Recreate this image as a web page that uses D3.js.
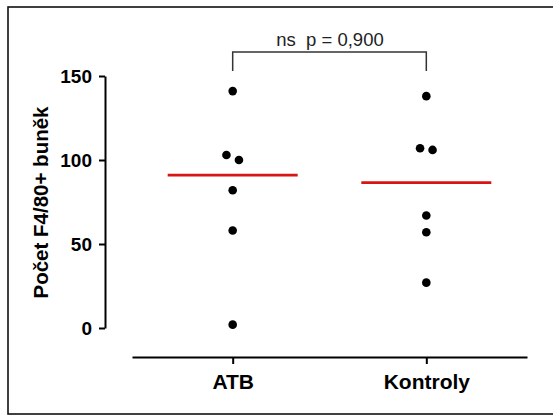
<!DOCTYPE html>
<html>
<head>
<meta charset="utf-8">
<script src="https://cdn.jsdelivr.net/npm/d3@7"></script>
<style>
  html, body { margin: 0; padding: 0; background: #fff; }
  svg { display: block; }
</style>
</head>
<body>
<svg id="chart" width="553" height="416"></svg>
<script>
// Groups and individual counts of F4/80+ cells per animal
const groups = ["ATB", "Kontroly"];
const atbValues = [141, 103, 100, 82, 58, 2];
const kontrolyValues = [138, 107, 106, 67, 57, 27];
const yTicks = [0, 50, 100, 150];
const yLabel = "Počet F4/80+ buněk";
const statLabel = "ns  p = 0,900";

const seriesByGroup = { "ATB": atbValues, "Kontroly": kontrolyValues };

const svg = d3.select("#chart");
const font = "'Liberation Sans', Arial, Helvetica, sans-serif";

// outer frame
svg.append("rect")
  .attr("x", 8).attr("y", 7)
  .attr("width", 560).attr("height", 407)
  .attr("fill", "none").attr("stroke", "#111").attr("stroke-width", 1.6);

const x = d3.scalePoint().domain(groups).range([132, 527]).padding(0.52);
const y = d3.scaleLinear().domain([0, 150]).range([328, 76]);

// y axis
const yAxis = svg.append("g")
  .attr("transform", "translate(105,0)")
  .call(d3.axisLeft(y).tickValues(yTicks).tickSize(6).tickSizeOuter(0).tickPadding(7));
yAxis.select(".domain").attr("stroke", "#000").attr("stroke-width", 2);
yAxis.selectAll(".tick line").attr("stroke", "#000").attr("stroke-width", 2);
yAxis.selectAll(".tick text")
  .attr("font-family", font).attr("font-weight", "bold")
  .attr("font-size", 19).attr("fill", "#000");

// x axis
const xAxis = svg.append("g")
  .attr("transform", "translate(0,357)")
  .call(d3.axisBottom(x).tickSize(7).tickSizeOuter(0).tickPadding(10));
xAxis.select(".domain").attr("stroke", "#000").attr("stroke-width", 2.2);
xAxis.selectAll(".tick line").attr("stroke", "#000").attr("stroke-width", 2);
xAxis.selectAll(".tick text")
  .attr("font-family", font).attr("font-weight", "bold")
  .attr("font-size", 21).attr("fill", "#000");

// y axis title
svg.append("text")
  .attr("transform", `translate(48,${(y(0) + y(150)) / 2 + 0.5}) rotate(-90)`)
  .attr("text-anchor", "middle")
  .attr("font-family", font).attr("font-weight", "bold")
  .attr("font-size", 20.5).attr("fill", "#000")
  .text(yLabel);

// spread points that would overlap horizontally
function placePoints(group) {
  const vals = seriesByGroup[group].slice().sort((a, b) => b - a);
  const clusters = [];
  vals.forEach(v => {
    const last = clusters[clusters.length - 1];
    if (last && Math.abs(y(last[last.length - 1]) - y(v)) < 8) last.push(v);
    else clusters.push([v]);
  });
  const pts = [];
  clusters.forEach(c => c.forEach((v, i) => {
    pts.push({ cx: x(group) + (i - (c.length - 1) / 2) * 12.5, cy: y(v) });
  }));
  return pts;
}

groups.forEach(g => {
  const med = d3.median(seriesByGroup[g]);
  svg.append("line")
    .attr("x1", x(g) - 65).attr("x2", x(g) + 65)
    .attr("y1", y(med)).attr("y2", y(med))
    .attr("stroke", "#d81515").attr("stroke-width", 2.8);

  svg.append("g").selectAll("circle")
    .data(placePoints(g))
    .join("circle")
    .attr("cx", d => d.cx).attr("cy", d => d.cy)
    .attr("r", 4.3).attr("fill", "#000");
});

// significance bracket
const bracketY = 52;
svg.append("path")
  .attr("d", `M${x(groups[0])},71 V${bracketY} H${x(groups[1])} V71`)
  .attr("fill", "none").attr("stroke", "#333").attr("stroke-width", 1.5);

svg.append("text")
  .attr("x", (x(groups[0]) + x(groups[1])) / 2 + 0.5)
  .attr("y", 46)
  .attr("text-anchor", "middle")
  .attr("font-family", font).attr("font-size", 18.5).attr("fill", "#222")
  .style("white-space", "pre")
  .text(statLabel);
</script>
</body>
</html>
